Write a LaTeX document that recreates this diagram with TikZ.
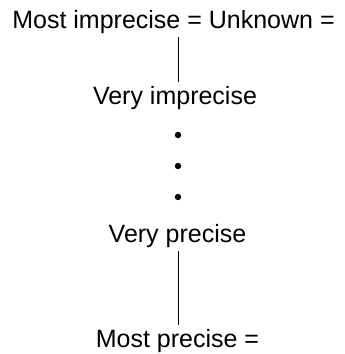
\documentclass[tikz,border=0pt]{standalone}
\usepackage{fontspec}
\setmainfont{Liberation Sans}
\usepackage{tikz}
\usetikzlibrary{positioning}

\begin{document}
\begin{tikzpicture}[
    x=1pt, y=-1pt,
    level/.style={anchor=base, inner xsep=0pt, inner ysep=4pt, text height=18pt, text depth=5pt, font=\fontsize{25}{30}\selectfont},
    gapdot/.style={circle, fill=black, inner sep=0pt, minimum size=6.4pt},
    link/.style={black, line width=0.9pt}
]
    \useasboundingbox (0,0) rectangle (345,354);

    % Precision levels, top to bottom.
    \node[level] (mostimp) at (173.5, 28) {Most imprecise = Unknown =};
    \node[level] (veryimp) at (175, 104) {Very imprecise};
    \node[gapdot] (dotA) at (178, 135) {};
    \node[gapdot] (dotB) at (178, 166) {};
    \node[gapdot] (dotC) at (178, 197) {};
    \node[level] (veryprec) at (177.5, 242) {Very precise};
    \node[level] (mostprec) at (177.5, 347) {Most precise =};

    \draw[link] (mostimp.south -| dotA) -- (veryimp.north -| dotA);
    \draw[link] (veryprec.south -| dotC) -- (mostprec.north -| dotC);

\end{tikzpicture}
\end{document}
